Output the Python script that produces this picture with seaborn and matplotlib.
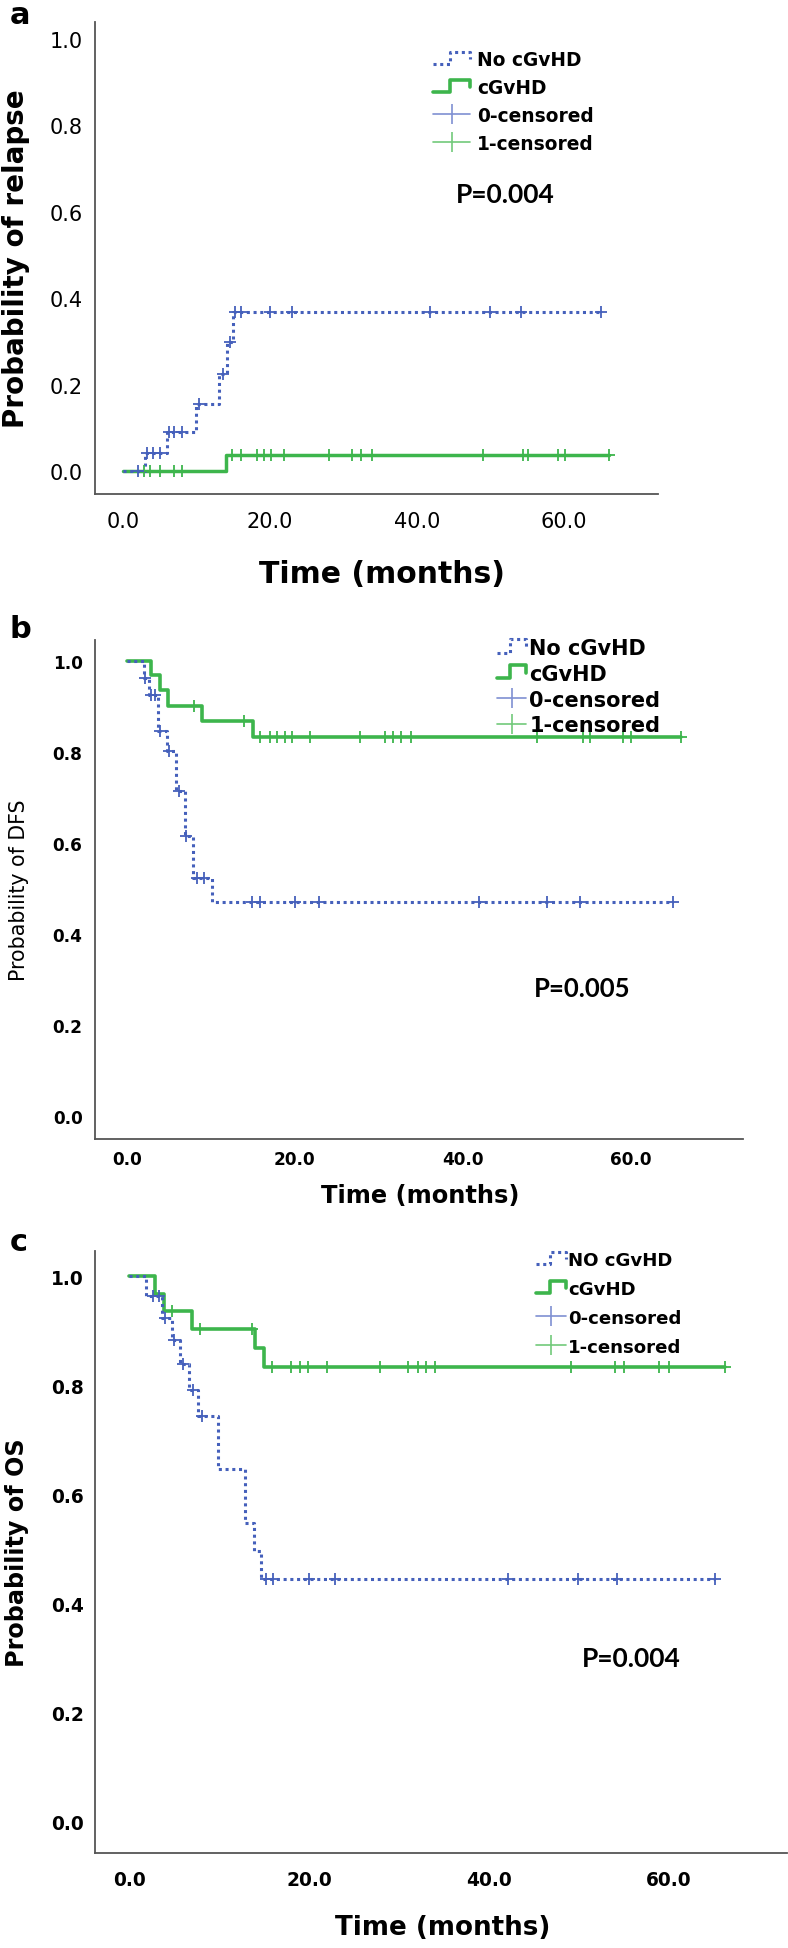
import numpy as np
import pandas as pd
import matplotlib
matplotlib.use("Agg")
import matplotlib.pyplot as plt
from matplotlib.lines import Line2D
from matplotlib.legend_handler import HandlerBase
import seaborn as sns

# ---- data (months, probability) ----
# panel a: cumulative relapse
a_blue_t = [0, 3.0, 6.0, 10.0, 13.1, 14.2, 15.0, 65.0]
a_blue_v = [0, 0.042, 0.090, 0.155, 0.225, 0.298, 0.367, 0.367]
a_blue_cens = [2.0, 3.3, 4.1, 5.0, 6.3, 7.0, 8.1, 10.3, 13.6, 14.5,
               15.3, 16.1, 20.0, 23.0, 41.8, 50.0, 54.1, 65.0]
a_green_t = [0, 14.0, 66.1]
a_green_v = [0, 0.038, 0.038]
a_green_cens = [2.9, 3.7, 5.0, 7.0, 8.1, 14.9, 16.1, 18.2, 19.2, 20.1, 21.9,
                28.1, 31.2, 32.4, 33.9, 49.0, 54.5, 55.1, 59.2, 60.1, 66.1]

# panel b: DFS
b_blue_t = [0, 2.0, 2.6, 3.7, 4.8, 5.9, 6.9, 7.9, 10.1, 65.1]
b_blue_v = [1.0, 0.963, 0.925, 0.847, 0.801, 0.713, 0.616, 0.523, 0.471, 0.471]
b_blue_cens = [2.2, 2.9, 3.3, 3.9, 5.0, 6.2, 7.1, 8.3, 9.2, 14.9, 15.8,
               20.0, 22.9, 42.0, 50.1, 54.0, 65.1]
b_green_t = [0, 2.9, 3.9, 4.9, 8.9, 15.0, 66.0]
b_green_v = [1.0, 0.968, 0.935, 0.902, 0.868, 0.833, 0.833]
b_green_cens = [8.0, 14.0, 15.9, 17.0, 17.9, 18.8, 19.7, 21.8, 27.8, 30.8,
                31.7, 32.6, 33.9, 48.9, 54.3, 55.2, 59.1, 60.0, 66.0]

# panel c: OS
c_blue_t = [0, 1.9, 3.6, 4.8, 5.7, 6.7, 7.7, 9.9, 12.9, 13.9, 14.7, 65.1]
c_blue_v = [1.0, 0.963, 0.924, 0.883, 0.839, 0.792, 0.744, 0.646, 0.547,
            0.496, 0.445, 0.445]
c_blue_cens = [2.6, 3.3, 4.0, 5.0, 6.0, 7.1, 8.1, 15.2, 16.0, 20.0, 22.9,
               42.1, 49.9, 54.2, 65.1]
c_green_t = [0, 2.9, 3.9, 7.0, 14.0, 15.0, 66.2]
c_green_v = [1.0, 0.968, 0.936, 0.903, 0.868, 0.833, 0.833]
c_green_cens = [4.8, 7.9, 13.6, 15.9, 18.0, 19.0, 19.9, 22.0, 27.9, 31.0,
                32.1, 33.0, 34.0, 49.1, 54.0, 55.0, 58.9, 60.0, 66.2]

x_ticks = [0, 20, 40, 60]
x_ticklabels = ["0.0", "20.0", "40.0", "60.0"]
y_ticks = [0, 0.2, 0.4, 0.6, 0.8, 1.0]
y_ticklabels = ["0.0", "0.2", "0.4", "0.6", "0.8", "1.0"]

BLUE = "#4560bb"
GREEN = "#3db54c"
BLUE_LT = "#7f90d2"
GREEN_LT = "#72c97a"
SPINE = "#555555"

sns.set_style("white")
plt.rcParams["font.family"] = ["DejaVu Sans"]
plt.rcParams["text.color"] = "black"
plt.rcParams["xtick.labelcolor"] = "black"
plt.rcParams["ytick.labelcolor"] = "black"

W, H = 788, 1949
fig = plt.figure(figsize=(W / 100, H / 100), dpi=100)


def fx(x):
    return x / W


def fy(y):
    return 1 - y / H


class StepHandler(HandlerBase):
    # little step-shaped legend icon like the SPSS output
    def create_artists(self, legend, orig_handle, xdescent, ydescent,
                       width, height, fontsize, trans):
        x0, y0 = -xdescent, -ydescent
        xs = [x0, x0 + 0.45 * width, x0 + 0.45 * width, x0 + width, x0 + width]
        ys = [y0 + 0.1 * height, y0 + 0.1 * height, y0 + height,
              y0 + height, y0 + 0.45 * height]
        line = Line2D(xs, ys)
        line.update_from(orig_handle)
        line.set_transform(trans)
        return [line]


def step_level(times, vals, t):
    idx = np.searchsorted(times, t, side="right") - 1
    return np.asarray(vals)[idx]


def draw_panel(ax, blue, green, xlim, ylim, tick_kw, lw_b, lw_g):
    bt, bv, bc = blue
    gt, gv, gc = green
    sns.lineplot(x=gt, y=gv, ax=ax, color=GREEN, lw=lw_g, drawstyle="steps-post",
                 estimator=None, sort=False, zorder=2)
    sns.lineplot(x=bt, y=bv, ax=ax, color=BLUE, lw=lw_b, drawstyle="steps-post",
                 linestyle=(0, (1, 1.2)), estimator=None, sort=False, zorder=3)
    sns.scatterplot(x=gc, y=step_level(gt, gv, gc), ax=ax, marker="+", s=70,
                    color=GREEN, linewidth=1.3, legend=False, zorder=4)
    sns.scatterplot(x=bc, y=step_level(bt, bv, bc), ax=ax, marker="+", s=70,
                    color=BLUE, linewidth=1.3, legend=False, zorder=5)
    ax.set_xlim(*xlim)
    ax.set_ylim(*ylim)
    ax.set_xticks(x_ticks)
    ax.set_xticklabels(x_ticklabels)
    ax.set_yticks(y_ticks)
    ax.set_yticklabels(y_ticklabels)
    sns.despine(ax=ax)
    for s in ["left", "bottom"]:
        ax.spines[s].set_color(SPINE)
        ax.spines[s].set_linewidth(1.3)
    ax.tick_params(axis="x", length=tick_kw["xlen"], width=1.2, color=SPINE,
                   labelcolor="black", labelsize=tick_kw["size"],
                   pad=tick_kw["xpad"])
    ax.tick_params(axis="y", length=tick_kw["ylen"], width=1.2, color=SPINE,
                   labelcolor="black", labelsize=tick_kw["size"], pad=1)
    for lab in ax.get_xticklabels() + ax.get_yticklabels():
        lab.set_fontweight(tick_kw["weight"])
    ax.set_xlabel("")
    ax.set_ylabel("")


def add_legend(ax, first, top, left, size, hlen, hpad, lspace):
    handles = [
        Line2D([], [], color=BLUE, lw=2.2, linestyle=(0, (1, 1.2))),
        Line2D([], [], color=GREEN, lw=2.6),
        Line2D([], [], color=BLUE_LT, lw=1.2, marker="|", markersize=15,
               markeredgewidth=1.2),
        Line2D([], [], color=GREEN_LT, lw=1.2, marker="|", markersize=15,
               markeredgewidth=1.2),
    ]
    labels = [first, "cGvHD", "0-censored", "1-censored"]
    leg = ax.legend(handles, labels, loc="upper left",
                    bbox_to_anchor=(fx(left), fy(top)),
                    bbox_transform=fig.transFigure,
                    frameon=False, borderpad=0, borderaxespad=0, numpoints=1,
                    handlelength=hlen, handletextpad=hpad, labelspacing=lspace,
                    prop={"size": size, "weight": "bold"},
                    handler_map={handles[0]: StepHandler(),
                                 handles[1]: StepHandler()})
    for t in leg.get_texts():
        t.set_color("black")


# ---- panel a ----
ax_a = fig.add_axes([fx(95), fy(495), (658 - 95) / W, (495 - 23) / H])
draw_panel(ax_a, (a_blue_t, a_blue_v, a_blue_cens),
           (a_green_t, a_green_v, a_green_cens),
           (-3.8, 72.8), (-0.053, 1.039),
           {"xlen": 8, "ylen": 8, "size": 15, "weight": "normal", "xpad": 4},
           2.2, 2.5)
add_legend(ax_a, "No cGvHD", 51, 433, 13.4, 2.0, 0.37, 0.48)
fig.text(fx(505), fy(195), "P=0.004", family="Lato", weight="bold",
         fontsize=19, ha="center", va="center")
fig.text(fx(382), fy(575), "Time (months)", fontsize=21.5, weight="bold",
         ha="center", va="center")
fig.text(fx(16), fy(259), "Probability of relapse", fontsize=20, weight="bold",
         ha="center", va="center", rotation=90)
fig.text(fx(10), fy(24), "a", fontsize=22, weight="bold", va="baseline")

# ---- panel b ----
ax_b = fig.add_axes([fx(95), fy(1140), (743 - 95) / W, (1140 - 641) / H])
draw_panel(ax_b, (b_blue_t, b_blue_v, b_blue_cens),
           (b_green_t, b_green_v, b_green_cens),
           (-3.8, 73.4), (-0.051, 1.046),
           {"xlen": 5, "ylen": 8, "size": 12.2, "weight": "bold", "xpad": 3},
           2.2, 2.6)
add_legend(ax_b, "No cGvHD", 639, 497, 15, 1.4, 0.15, 0.28)
fig.text(fx(582), fy(989), "P=0.005", family="Lato", weight="bold",
         fontsize=18.5, ha="center", va="center")
fig.text(fx(420), fy(1196), "Time (months)", fontsize=17.4, weight="bold",
         ha="center", va="center")
fig.text(fx(19), fy(890), "Probability of DFS", fontsize=14.8,
         ha="center", va="center", rotation=90)
fig.text(fx(10), fy(638), "b", fontsize=22, weight="bold", va="baseline")

# ---- panel c ----
ax_c = fig.add_axes([fx(95), fy(1854), (787 - 95) / W, (1854 - 1252) / H])
draw_panel(ax_c, (c_blue_t, c_blue_v, c_blue_cens),
           (c_green_t, c_green_v, c_green_cens),
           (-3.8, 73.1), (-0.057, 1.046),
           {"xlen": 8, "ylen": 7, "size": 13.4, "weight": "bold", "xpad": 4},
           2.2, 2.6)
add_legend(ax_c, "NO cGvHD", 1252, 536, 13.1, 1.65, 0.11, 0.6)
fig.text(fx(631), fy(1659), "P=0.004", family="Lato", weight="bold",
         fontsize=19, ha="center", va="center")
fig.text(fx(443), fy(1928), "Time (months)", fontsize=18.8, weight="bold",
         ha="center", va="center")
fig.text(fx(17), fy(1553), "Probability of OS", fontsize=17.2, weight="bold",
         ha="center", va="center", rotation=90)
fig.text(fx(10), fy(1251), "c", fontsize=22, weight="bold", va="baseline")

fig.savefig("out.png", dpi=100)
